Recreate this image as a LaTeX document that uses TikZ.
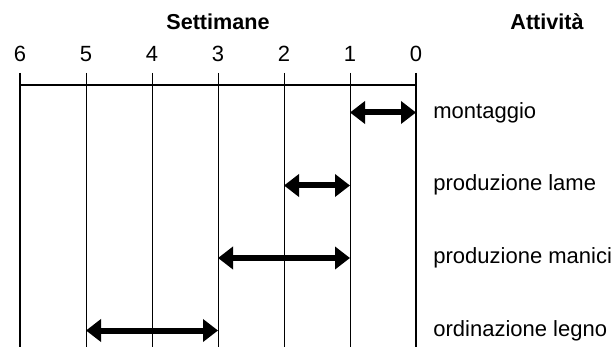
\documentclass[tikz,border=0pt]{standalone}
\usepackage{fontspec}
\setmainfont{Liberation Sans}
\usetikzlibrary{arrows.meta}
\begin{document}
\begin{tikzpicture}[x=0.5pt,y=-0.5pt,
  txt/.style={font=\fontsize{11}{13}\selectfont, inner sep=0pt, anchor=base},
  head/.style={txt, font=\fontsize{10.8}{13}\selectfont\bfseries},
  lbl/.style={txt, anchor=base west},
  outer/.style={line width=1pt},
  inner/.style={line width=0.5pt},
  span/.style={line width=3pt, {Triangle[length=7.5pt,width=11pt]}-{Triangle[length=7.5pt,width=11pt]}, shorten <=0pt, shorten >=0pt}]
\useasboundingbox (0,0) rectangle (615,347);
% grid column tops and bottoms
\foreach \i/\x in {0/416,1/350,2/284,3/218,4/152,5/86,6/20}{
  \coordinate (top\i) at (\x,73);
  \coordinate (bot\i) at (\x,348);
  \coordinate (ax\i) at (\x,85);
  \node[txt] (n\i) at (\x,62) {\i};
}
\draw[outer] (top6) -- (bot6);
\draw[outer] (top0) -- (bot0);
\foreach \i in {1,...,5}{\draw[inner] (top\i) -- (bot\i);}
\draw[outer] (ax6) -- (ax0);
% headers
\node[head] (sett) at (218,30) {Settimane};
\node[head] (att) at (547,30) {Attività};
% activity rows
\foreach \r/\y in {1/112.5,2/185.5,3/258,4/330.5}{
  \foreach \i/\x in {0/416,1/350,2/284,3/218,5/86}{
    \coordinate (r\r c\i) at (\x,\y);
  }
}
\draw[span] (r1c1) -- (r1c0);
\draw[span] (r2c2) -- (r2c1);
\draw[span] (r3c3) -- (r3c1);
\draw[span] (r4c5) -- (r4c3);
\node[lbl] (l1) at (433,118.5) {montaggio};
\node[lbl] (l2) at (433,191) {produzione lame};
\node[lbl] (l3) at (433,263.5) {produzione manici};
\node[lbl] (l4) at (433,336) {ordinazione legno};
\end{tikzpicture}
\end{document}
